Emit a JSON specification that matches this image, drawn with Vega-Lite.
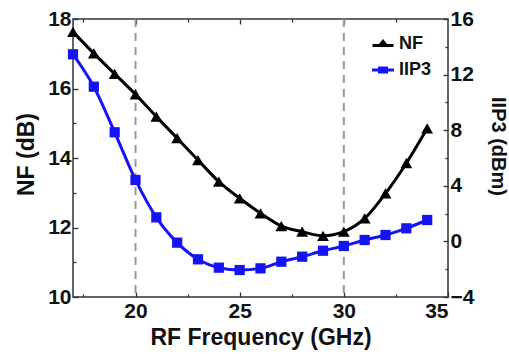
{
  "$schema": "https://vega.github.io/schema/vega-lite/v6.json",
  "width": 375,
  "height": 278,
  "autosize": {"type": "none"},
  "padding": {"left": 73, "top": 19, "right": 61, "bottom": 57},
  "background": "white",
  "config": {
    "view": {"stroke": "#333", "strokeWidth": 1.5},
    "axis": {
      "labelFont": "Liberation Sans", "labelFontWeight": "bold", "labelFontSize": 21, "labelColor": "#111",
      "titleFont": "Liberation Sans", "titleFontWeight": "bold", "titleFontSize": 23, "titleColor": "#111",
      "domain": false, "grid": false, "tickColor": "#333", "tickWidth": 1.3
    },
    "legend": {"labelFont": "Liberation Sans", "labelFontWeight": "bold", "labelFontSize": 18, "labelColor": "#111"}
  },
  "datasets": {
    "d": [
      {"f": 17, "NF": 17.63, "IIP3": 13.46},
      {"f": 18, "NF": 17.01, "IIP3": 11.13},
      {"f": 19, "NF": 16.42, "IIP3": 7.85},
      {"f": 20, "NF": 15.83, "IIP3": 4.42},
      {"f": 21, "NF": 15.19, "IIP3": 1.73},
      {"f": 22, "NF": 14.57, "IIP3": -0.09},
      {"f": 23, "NF": 13.94, "IIP3": -1.29},
      {"f": 24, "NF": 13.32, "IIP3": -1.89},
      {"f": 25, "NF": 12.84, "IIP3": -2.06},
      {"f": 26, "NF": 12.41, "IIP3": -1.94},
      {"f": 27, "NF": 12.04, "IIP3": -1.46},
      {"f": 28, "NF": 11.88, "IIP3": -1.10},
      {"f": 29, "NF": 11.76, "IIP3": -0.67},
      {"f": 30, "NF": 11.88, "IIP3": -0.33},
      {"f": 31, "NF": 12.26, "IIP3": 0.10},
      {"f": 32, "NF": 12.98, "IIP3": 0.46},
      {"f": 33, "NF": 13.85, "IIP3": 0.94},
      {"f": 34, "NF": 14.85, "IIP3": 1.54}
    ],
    "v": [{"f": 20}, {"f": 30}]
  },
  "resolve": {
    "scale": {"y": "independent"},
    "axis": {"x": "independent", "y": "independent"}
  },
  "layer": [
    {
      "data": {"name": "v"},
      "mark": {"type": "rule", "strokeDash": [8, 6], "color": "#999", "strokeWidth": 2},
      "encoding": {
        "x": {"field": "f", "type": "quantitative", "scale": {"domain": [17, 35], "nice": false, "zero": false},
          "axis": {"orient": "bottom", "values": [20, 25, 30, 35], "tickSize": -5, "labelPadding": 8,
            "title": "RF Frequency (GHz)", "titleBaseline": "alphabetic", "titleY": 47}}
      }
    },
    {
      "data": {"name": "d"},
      "mark": {"type": "line", "interpolate": "monotone", "color": "black", "strokeWidth": 3},
      "encoding": {
        "x": {"field": "f", "type": "quantitative", "axis": {"orient": "top", "values": [20, 25, 30], "tickSize": -5, "labels": false, "title": null}},
        "y": {"field": "NF", "type": "quantitative", "scale": {"domain": [10, 18], "nice": false, "zero": false},
          "axis": {"orient": "left", "values": [10, 12, 14, 16, 18], "tickSize": -5, "labelPadding": 7,
            "title": "NF (dB)", "titleBaseline": "middle", "titleX": -47, "titleY": 135}}
      }
    },
    {
      "data": {"name": "d"},
      "mark": {"type": "point", "shape": "triangle-up", "filled": true, "color": "black", "size": 140, "opacity": 1},
      "encoding": {
        "x": {"field": "f", "type": "quantitative", "axis": {"orient": "bottom", "values": [17.5, 22.5, 27.5, 32.5], "tickSize": -3, "labels": false, "title": null}},
        "y": {"field": "NF", "type": "quantitative", "scale": {"domain": [10, 18], "nice": false, "zero": false},
          "axis": {"orient": "left", "values": [11, 13, 15, 17], "tickSize": -3, "labels": false, "title": null}}
      }
    },
    {
      "data": {"name": "d"},
      "mark": {"type": "line", "interpolate": "monotone", "color": "#1414f5", "strokeWidth": 3},
      "encoding": {
        "x": {"field": "f", "type": "quantitative", "axis": {"orient": "top", "values": [17.5, 22.5, 27.5, 32.5], "tickSize": -3, "labels": false, "title": null}},
        "y": {"field": "IIP3", "type": "quantitative", "scale": {"domain": [-4, 16], "nice": false, "zero": false},
          "axis": {"orient": "right", "values": [-4, 0, 4, 8, 12, 16], "tickSize": -5, "labelPadding": 7,
            "title": "IIP3 (dBm)", "titleFontSize": 20, "titleBaseline": "middle", "titleX": 49, "titleY": 127}}
      }
    },
    {
      "data": {"name": "d"},
      "mark": {"type": "point", "shape": "square", "filled": true, "color": "#1414f5", "size": 105, "opacity": 1},
      "encoding": {
        "x": {"field": "f", "type": "quantitative", "axis": null},
        "y": {"field": "IIP3", "type": "quantitative", "scale": {"domain": [-4, 16], "nice": false, "zero": false},
          "axis": {"orient": "right", "values": [-2, 2, 6, 10, 14], "tickSize": -3, "labels": false, "title": null}}
      }
    },
    {
      "data": {"name": "d"},
      "mark": {"type": "point", "filled": true, "opacity": 0},
      "encoding": {
        "color": {"datum": "NF", "type": "nominal",
          "scale": {"domain": ["NF", "IIP3"], "range": ["black", "#1414f5"]},
          "legend": {"title": null, "orient": "none", "legendX": 301, "legendY": 16, "padding": 0,
            "symbolSize": 100, "symbolOpacity": 1, "labelOffset": 7, "rowPadding": 8, "symbolStrokeWidth": 0}},
        "shape": {"datum": "NF", "type": "nominal",
          "scale": {"domain": ["NF", "IIP3"], "range": [
            "M-2.1,0H2.1V0.6H-2.1Z M0,-1.0L1.2,0.5L-1.2,0.5Z",
            "M-2.2,-0.3H2.2V0.3H-2.2Z M-1,-0.7H1V0.7H-1Z"]},
          "legend": {"title": null, "orient": "none", "legendX": 301, "legendY": 16, "padding": 0,
            "symbolSize": 100, "symbolOpacity": 1, "labelOffset": 7, "rowPadding": 8, "symbolStrokeWidth": 0}}
      }
    }
  ]
}
